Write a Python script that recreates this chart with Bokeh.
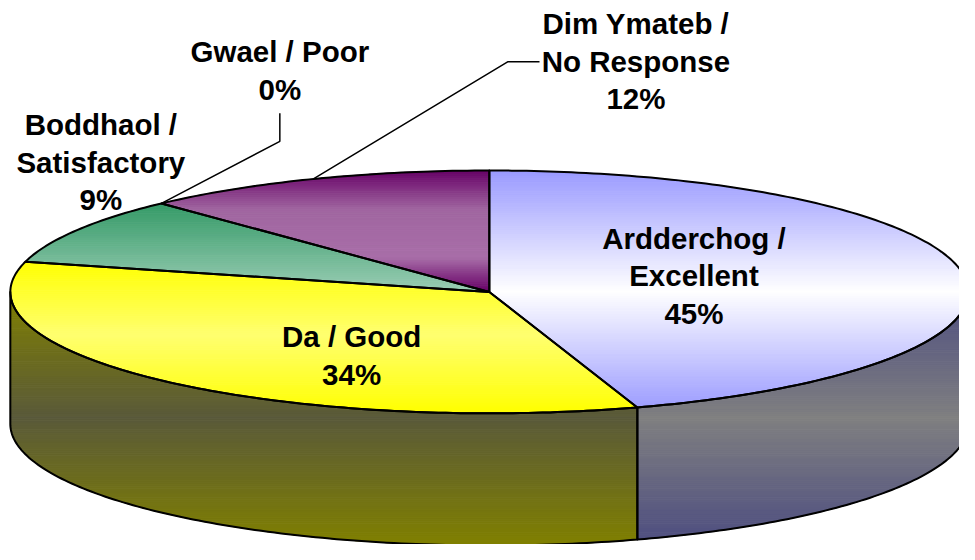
import numpy as np
from bokeh.plotting import figure
from bokeh.models import Range1d
from bokeh.embed import file_html
from bokeh.resources import INLINE
from bokeh.core.properties import value

# ---------------- data ----------------
categories_cy = ["Ardderchog", "Da", "Boddhaol", "Gwael", "Dim Ymateb"]
categories_en = ["Excellent", "Good", "Satisfactory", "Poor", "No Response"]
percentages = [45, 34, 9, 0, 12]

# ---------------- styling / layout ----------------
CX, CY, RX, RY, DEPTH = 497.0, 300.0, 487.0, 125.0, 136.0
FONT = "Liberation Sans"
FS = "29.5px"
LINE_GAP = 38.5

# vertical gradient stops (y, colour) for top faces and side faces
top_grad = [
    [(175, "#9999FF"), (300, "#FFFFFF"), (425, "#9999FF")],
    [(268, "#FFFF00"), (345, "#FFFF70"), (425, "#FFFF00")],
    [(208, "#339966"), (300, "#9ACDB4")],
    [(175, "#CC99CC"), (300, "#CC99CC")],
    [(175, "#660066"), (215, "#A066A0"), (265, "#A86EA8"), (300, "#660066")],
]
side_grad = [
    [(300, "#4D4D80"), (430, "#808080"), (561, "#4D4D80")],
    [(300, "#808000"), (430, "#5A5A3A"), (561, "#808000")],
    [(300, "#1A4D33"), (561, "#1A4D33")],
    [(300, "#666666"), (561, "#666666")],
    [(300, "#4D1A4D"), (561, "#4D1A4D")],
]
# label layout: centre x, first line y, label split into lines
label_layout = [
    (705, 245, ["{cy} /", "{en}", "{v}%"]),
    (357, 346, ["{cy} / {en}", "{v}%"]),
    (102, 128, ["{cy} /", "{en}", "{v}%"]),
    (284, 53, ["{cy} / {en}", "{v}%"]),
    (646, 24, ["{cy} /", "{en}", "{v}%"]),
]


def hex2rgb(h):
    h = h.lstrip("#")
    return np.array([int(h[i:i + 2], 16) for i in (0, 2, 4)], dtype=float)


def colour_at(stops, y):
    ys = [s[0] for s in stops]
    cols = [hex2rgb(s[1]) for s in stops]
    if y <= ys[0]:
        c = cols[0]
    elif y >= ys[-1]:
        c = cols[-1]
    else:
        for i in range(len(ys) - 1):
            if ys[i] <= y <= ys[i + 1]:
                t = (y - ys[i]) / (ys[i + 1] - ys[i])
                c = cols[i] * (1 - t) + cols[i + 1] * t
                break
    c = np.clip(np.round(c), 0, 255).astype(int)
    return "#%02X%02X%02X" % tuple(c)


def pt(frac, dy=0.0):
    t = 2 * np.pi * frac
    return CX + RX * np.sin(t), CY - RY * np.cos(t) + dy


def arc(f0, f1, dy=0.0):
    n = max(2, int(abs(f1 - f0) * 400) + 2)
    fs = np.linspace(f0, f1, n)
    return [pt(f, dy) for f in fs]


def clip(pts, keep, inter):
    out = []
    if not pts:
        return out
    prev = pts[-1]
    for cur in pts:
        if keep(cur):
            if not keep(prev):
                out.append(inter(prev, cur))
            out.append(cur)
        elif keep(prev):
            out.append(inter(prev, cur))
        prev = cur
    return out


def band(pts, ya, yb):
    def ix(yv):
        def f(p, q):
            t = (yv - p[1]) / (q[1] - p[1])
            return (p[0] + t * (q[0] - p[0]), yv)
        return f
    r = clip(pts, lambda p: p[1] >= ya, ix(ya))
    r = clip(r, lambda p: p[1] <= yb, ix(yb))
    return r


p = figure(width=959, height=544, output_backend="svg", toolbar_location=None,
           x_range=Range1d(0, 975), y_range=Range1d(560, 0),
           min_border=0, outline_line_color=None)
p.axis.visible = False
p.grid.visible = False
p.background_fill_color = "white"
p.border_fill_color = "white"

total = float(sum(percentages))
cum = np.concatenate([[0.0], np.cumsum(percentages) / total])

fill_xs, fill_ys, fill_c = [], [], []
out_xs, out_ys = [], []


def add_gradient_poly(poly, stops):
    ys = [q[1] for q in poly]
    y0, y1 = min(ys), max(ys)
    step = 2.0
    yv = y0
    while yv < y1:
        b = band(poly, yv, min(yv + step, y1))
        if len(b) >= 3:
            fill_xs.append([q[0] for q in b])
            fill_ys.append([q[1] for q in b])
            fill_c.append(colour_at(stops, yv + step / 2))
        yv += step
    out_xs.append([q[0] for q in poly])
    out_ys.append([q[1] for q in poly])


# side faces (front half only: fractions 0.25..0.75)
for i, v in enumerate(percentages):
    a0, a1 = max(cum[i], 0.25), min(cum[i + 1], 0.75)
    if v == 0 or a1 <= a0:
        continue
    poly = arc(a0, a1) + arc(a1, a0, DEPTH)
    add_gradient_poly(poly, side_grad[i])

# top faces
for i, v in enumerate(percentages):
    if v == 0:
        continue
    poly = [(CX, CY)] + arc(cum[i], cum[i + 1])
    add_gradient_poly(poly, top_grad[i])

p.patches(fill_xs, fill_ys, fill_color=fill_c, line_color=fill_c, line_width=1)
p.patches(out_xs, out_ys, fill_color=None, line_color="black", line_width=2,
          line_join="round")

# leader lines
pe = pt(cum[4])
p.line([284, 284, pe[0]], [116, 145, pe[1]], line_color="black", line_width=1.5)
pm = pt((cum[4] + cum[5]) / 2)
p.line([548, 516, pm[0]], [63, 63, pm[1]], line_color="black", line_width=1.5)

# labels
tx, ty, tt = [], [], []
for i, (lx, ly, lines) in enumerate(label_layout):
    for k, ln in enumerate(lines):
        tx.append(lx)
        ty.append(ly + k * LINE_GAP)
        tt.append(ln.format(cy=categories_cy[i], en=categories_en[i], v=percentages[i]))
p.text(tx, ty, text=tt, text_align="center", text_baseline="alphabetic",
       text_font=value(FONT), text_font_style="bold", text_font_size=FS,
       text_color="black")

open("out.html", "w").write(file_html(p, INLINE))
